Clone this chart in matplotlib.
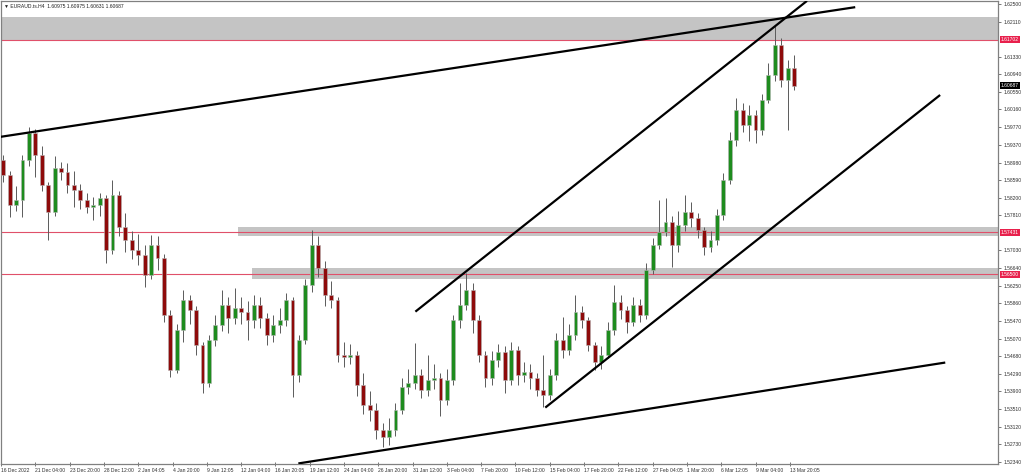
import matplotlib
matplotlib.use("Agg")
from matplotlib import pyplot as plt

first_open = 1.5904
closes = [1.5871, 1.5804, 1.5815, 1.5904, 1.5964, 1.5915, 1.5848, 1.5788, 1.5886, 1.5877,
          1.5848, 1.5837, 1.5815, 1.5799, 1.5804, 1.5819, 1.5704, 1.5826, 1.5755, 1.5726,
          1.5704, 1.5693, 1.5649, 1.5715, 1.5686, 1.5560, 1.5438, 1.5526, 1.5593, 1.5571,
          1.5493, 1.5409, 1.5504, 1.5537, 1.5582, 1.5553, 1.5575, 1.5566, 1.5549, 1.5582,
          1.5553, 1.5515, 1.5537, 1.5549, 1.5593, 1.5426, 1.5504, 1.5626, 1.5715, 1.5664,
          1.5604, 1.5593, 1.5471, 1.5466, 1.5471, 1.5404, 1.5360, 1.5349, 1.5304, 1.5289,
          1.5304, 1.5349, 1.5400, 1.5409, 1.5426, 1.5393, 1.5415, 1.5420, 1.5371, 1.5415,
          1.5549, 1.5582, 1.5615, 1.5549, 1.5471, 1.5420, 1.5460, 1.5478, 1.5415, 1.5482,
          1.5426, 1.5433, 1.5420, 1.5393, 1.5382, 1.5426, 1.5504, 1.5482, 1.5515, 1.5566,
          1.5549, 1.5493, 1.5455, 1.5471, 1.5526, 1.5589, 1.5571, 1.5544, 1.5582, 1.5560,
          1.5660, 1.5715, 1.5744, 1.5766, 1.5715, 1.5759, 1.5788, 1.5775, 1.5748, 1.5711,
          1.5726, 1.5782, 1.5859, 1.5948, 1.6015, 1.5982, 1.6004, 1.5970, 1.6037, 1.6093,
          1.6159, 1.6081, 1.6108, 1.60687]
highs = [1.5915, 1.5880, 1.5845, 1.5915, 1.5977, 1.5972, 1.5935, 1.5855, 1.5912, 1.5900,
         1.5897, 1.5880, 1.5850, 1.5830, 1.5822, 1.5830, 1.5825, 1.5859, 1.5835, 1.5785,
         1.5745, 1.5740, 1.5715, 1.5737, 1.5735, 1.5695, 1.5570, 1.5540, 1.5615, 1.5605,
         1.5580, 1.5500, 1.5515, 1.5560, 1.5615, 1.5600, 1.5620, 1.5600, 1.5590, 1.5605,
         1.5600, 1.5565, 1.5560, 1.5575, 1.5608, 1.5600, 1.5515, 1.5640, 1.5749, 1.5735,
         1.5680, 1.5635, 1.5600, 1.5500, 1.5495, 1.5480, 1.5430, 1.5390, 1.5365, 1.5320,
         1.5330, 1.5365, 1.5420, 1.5440, 1.5498, 1.5440, 1.5470, 1.5450, 1.5430, 1.5440,
         1.5560, 1.5630, 1.5653, 1.5630, 1.5560, 1.5480, 1.5480, 1.5495, 1.5490, 1.5500,
         1.5490, 1.5455, 1.5450, 1.5430, 1.5470, 1.5440, 1.5520, 1.5555, 1.5540, 1.5604,
         1.5580, 1.5555, 1.5500, 1.5490, 1.5545, 1.5626, 1.5604, 1.5580, 1.5600, 1.5595,
         1.5675, 1.5730, 1.5815, 1.5820, 1.5780, 1.5790, 1.5826, 1.5810, 1.5785, 1.5755,
         1.5745, 1.5795, 1.5875, 1.5965, 1.6042, 1.6030, 1.6026, 1.6015, 1.6050, 1.6119,
         1.6204, 1.6175, 1.6125, 1.6137]
lows = [1.5855, 1.5777, 1.5790, 1.5777, 1.5890, 1.5866, 1.5835, 1.5726, 1.5780, 1.5860,
        1.5830, 1.5800, 1.5795, 1.5785, 1.5770, 1.5780, 1.5675, 1.5695, 1.5735, 1.5700,
        1.5685, 1.5670, 1.5622, 1.5640, 1.5660, 1.5545, 1.5422, 1.5430, 1.5500, 1.5540,
        1.5470, 1.5387, 1.5400, 1.5490, 1.5525, 1.5520, 1.5540, 1.5540, 1.5504, 1.5530,
        1.5530, 1.5493, 1.5500, 1.5520, 1.5535, 1.5378, 1.5410, 1.5495, 1.5610, 1.5645,
        1.5580, 1.5575, 1.5455, 1.5445, 1.5450, 1.5380, 1.5340, 1.5325, 1.5285, 1.5267,
        1.5270, 1.5290, 1.5340, 1.5385, 1.5395, 1.5375, 1.5380, 1.5395, 1.5335, 1.5360,
        1.5405, 1.5530, 1.5570, 1.5520, 1.5455, 1.5400, 1.5405, 1.5445, 1.5387, 1.5405,
        1.5405, 1.5410, 1.5395, 1.5380, 1.5356, 1.5370, 1.5415, 1.5465, 1.5470, 1.5505,
        1.5530, 1.5480, 1.5438, 1.5440, 1.5465, 1.5515, 1.5550, 1.5520, 1.5535, 1.5545,
        1.5550, 1.5650, 1.5705, 1.5735, 1.5666, 1.5700, 1.5745, 1.5755, 1.5730, 1.5693,
        1.5700, 1.5715, 1.5770, 1.5850, 1.5935, 1.5965, 1.5945, 1.5942, 1.5960, 1.6030,
        1.6080, 1.6065, 1.5971, 1.6060]

# x axis dates, one label every 16 H4 bars
date_labels = ["16 Dec 2022", "21 Dec 04:00", "23 Dec 20:00", "28 Dec 12:00", "2 Jan 04:05",
               "4 Jan 20:00", "9 Jan 12:05", "12 Jan 04:00", "16 Jan 20:05", "19 Jan 12:00",
               "24 Jan 04:00", "26 Jan 20:00", "31 Jan 12:00", "3 Feb 04:00", "7 Feb 20:00",
               "10 Feb 12:00", "15 Feb 04:00", "17 Feb 20:00", "22 Feb 12:00", "27 Feb 04:05",
               "1 Mar 20:00", "6 Mar 12:05", "9 Mar 04:00", "13 Mar 20:05"]
price_labels = ["1.62500", "1.62110", "1.61330", "1.60940", "1.60550", "1.60160", "1.59770",
                "1.59370", "1.58980", "1.58590", "1.58200", "1.57810", "1.57030", "1.56640",
                "1.56250", "1.55860", "1.55470", "1.55070", "1.54680", "1.54290", "1.53900",
                "1.53510", "1.53120", "1.52730", "1.52340"]

# horizontal levels (red line) and their grey zones (low, high, start candle)
levels = [1.61702, 1.57431, 1.56500]
zone_low = [1.6168, 1.5736, 1.5640]
zone_high = [1.6221, 1.5756, 1.5664]
zone_start = [-1.0, 36.5, 38.7]

# trend lines: [x0, x1], [p0, p1] in candle units / price
trend_x = [[-0.47, 132.5], [64.1, 125.0], [84.3, 145.7], [45.9, 146.5]]
trend_p = [[1.5955, 1.6243], [1.5567, 1.6257], [1.5354, 1.6048], [1.5230, 1.5454]]

title = "\u25bc EURAUD.ts.H4  1.60975 1.60975 1.60631 1.60687"

bull = "#1e8c1e"
bear = "#8e0a0a"
level_red = "#e0506a"
small = dict(fontsize=3.6, family=["Liberation Sans", "DejaVu Sans"])

fig = plt.figure(figsize=(10.24, 4.75), dpi=100)
ax = fig.add_axes([0.001, 0.0232, 0.9736, 0.9747])
x_min, x_max = -0.31, 154.7
ax.set_xlim(x_min, x_max)
ax.set_ylim(1.52288, 1.62567)

for lo, hi, start in zip(zone_low, zone_high, zone_start):
    ax.fill_between([start, x_max + 1], lo, hi, color="#c4c4c4", lw=0, zorder=1)
for lv in levels:
    ax.axhline(lv, color=level_red, lw=0.8, zorder=2)

opens = [first_open] + closes[:-1]
xs = list(range(len(closes)))
ax.vlines(xs, lows, highs, color="#5a5a5a", lw=0.7, zorder=3)
for x, o, c in zip(xs, opens, closes):
    col = bull if c >= o else bear
    ax.bar(x, abs(c - o) if abs(c - o) > 0.00005 else 0.00005, bottom=min(o, c), width=0.6,
           color=col, edgecolor="#b4b4b4", lw=0.4, zorder=4)

for tx, tp in zip(trend_x, trend_p):
    ax.plot(tx, tp, color="black", lw=1.6, zorder=5, solid_capstyle="butt")

# axes styling, MT4 look
for s in ax.spines.values():
    s.set_color("#808080")
    s.set_linewidth(0.9)
ax.set_xticks([(16 * i - 1) / 3 for i in range(len(date_labels))])
ax.set_xticklabels(date_labels, ha="left", color="#303030", **small)
ax.set_yticks([float(p) for p in price_labels])
ax.set_yticklabels(price_labels, color="#303030", **small)
ax.yaxis.tick_right()
ax.tick_params(axis="x", length=3, width=0.6, direction="inout", pad=1.5, color="#606060")
ax.tick_params(axis="y", length=2, width=0.6, pad=2, color="#606060")

# price tags on the right scale
for lv in levels:
    ax.annotate("%.5f" % lv, xy=(1.003, lv), xycoords=("axes fraction", "data"),
                color="white", va="center", ha="left", annotation_clip=False,
                bbox=dict(boxstyle="square,pad=0.2", fc="#e8204c", ec="none"), **small)
ax.annotate("%.5f" % closes[-1], xy=(1.003, closes[-1]), xycoords=("axes fraction", "data"),
            color="white", va="center", ha="left", annotation_clip=False,
            bbox=dict(boxstyle="square,pad=0.2", fc="black", ec="none"), **small)

fig.text(0.004, 0.987, title, va="center", ha="left", color="#202020", **small)

fig.savefig("out.png", dpi=100, facecolor="white")
